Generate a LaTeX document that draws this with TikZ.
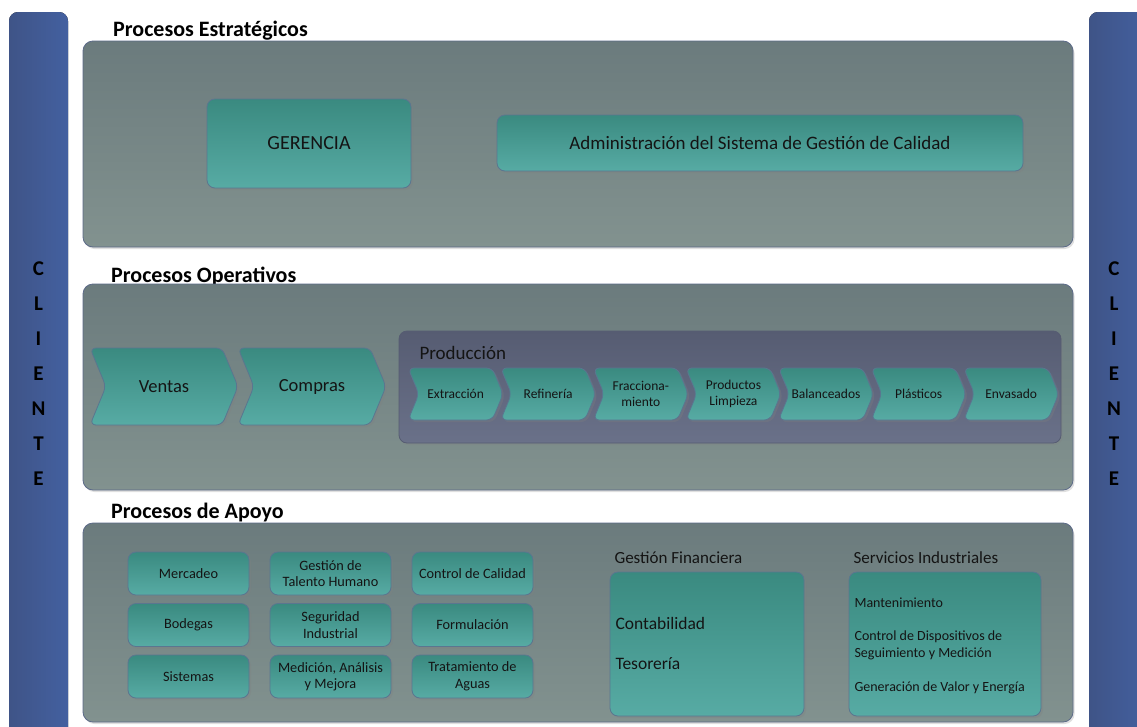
\documentclass[tikz,border=0pt]{standalone}
\usepackage{fontspec}
\setmainfont{Carlito}
\usetikzlibrary{shapes.symbols, shadows}

\definecolor{tealdark}{HTML}{3A8A80}
\definecolor{teallight}{HTML}{57ABA4}
\definecolor{tealedge}{HTML}{5A7690}
\definecolor{panelgray}{HTML}{6B7B7D}
\definecolor{panellight}{HTML}{82928F}
\definecolor{paneledge}{HTML}{5C6A88}
\definecolor{proddark}{HTML}{565C72}
\definecolor{prodlight}{HTML}{6A7189}
\definecolor{clientdark}{HTML}{3F5487}
\definecolor{clientlight}{HTML}{4360A0}
\definecolor{ink}{HTML}{141414}

\begin{document}
\begin{tikzpicture}[x=1pt, y=-1pt,
    panel/.style={draw=paneledge, line width=0.8pt, rounded corners=10pt,
        top color=panelgray, bottom color=panellight,
        drop shadow={shadow xshift=1.5pt, shadow yshift=-2pt, opacity=0.25}},
    prodpanel/.style={draw=proddark, line width=0.8pt, rounded corners=8pt,
        top color=proddark, bottom color=prodlight,
        drop shadow={shadow xshift=1.5pt, shadow yshift=-2pt, opacity=0.25}},
    clientbar/.style={rounded corners=9pt, left color=clientdark, right color=clientlight},
    tealbox/.style={draw=tealedge, line width=0.8pt, rounded corners=8pt,
        top color=tealdark, bottom color=teallight, text=ink, align=center,
        drop shadow={shadow xshift=2pt, shadow yshift=-2pt, opacity=0.3}},
    chevron/.style={tealbox, shape=signal, signal to=east, signal from=west,
        signal pointer angle=135, rounded corners=6pt, inner sep=1pt},
    title/.style={anchor=base west, inner sep=0pt, text=black,
        font=\fontsize{22}{24}\selectfont\bfseries},
    label/.style={anchor=west, text=ink, align=left},
    letter/.style={text=black, font=\fontsize{21}{22}\selectfont\bfseries}]

    % page and margins
    \fill[white] (0,0) rectangle (1137,726);
    \clip (0,0) rectangle (1137,726);

    % cliente bars
    \fill[clientbar] (9,12) rectangle (68,760);
    \fill[clientbar] (1089,12) rectangle (1150,760);
    \foreach \l [count=\i] in {C,L,I,E,N,T,E} {
        \node[letter] (cl\i) at (38.5,234+35*\i) {\l};
        \node[letter] (cr\i) at (1114,234+35*\i) {\l};
    }

    % procesos estrategicos
    \node[title] (tEstr) at (113,36) {Procesos Estratégicos};
    \draw[panel] (83,41) rectangle (1073,247);
    \node[tealbox, minimum width=204pt, minimum height=89pt,
        font=\fontsize{20}{22}\selectfont] (gerencia) at (309,143.5) {GERENCIA};
    \node[tealbox, minimum width=526pt, minimum height=56pt,
        font=\fontsize{19}{22}\selectfont] (sgc) at (760,143) {Administración del Sistema de Gestión de Calidad};

    % procesos operativos
    \node[title] (tOper) at (111,282) {Procesos Operativos};
    \draw[panel] (83,284) rectangle (1073,490);
    \node[chevron, minimum width=148pt, minimum height=77pt,
        font=\fontsize{18.5}{21}\selectfont] (ventas) at (164,386.5) {Ventas};
    \node[chevron, minimum width=148pt, minimum height=77pt,
        font=\fontsize{18.5}{21}\selectfont] (compras) at (312,386.5) {Compras};
    \draw[prodpanel] (399,331) rectangle (1061,443);
    \node[label, font=\fontsize{19}{22}\selectfont] (prod) at (416,353) {Producción};
    \foreach \t [count=\i] in {Extracción, Refinería, {Fracciona-\\miento}, {Productos\\Limpieza},
                               Balanceados, Plásticos, Envasado}
        \node[chevron, minimum width=95pt, minimum height=52pt,
            font=\fontsize{13.5}{16}\selectfont] (p\i) at (363+92.6*\i,394) {\t};

    % procesos de apoyo
    \node[title] (tApoyo) at (111,518) {Procesos de Apoyo};
    \draw[panel] (83,523) rectangle (1073,722);
    \foreach \t [count=\i] in {Mercadeo, {Gestión de\\Talento Humano}, Control de Calidad,
                               Bodegas, {Seguridad\\Industrial}, Formulación,
                               Sistemas, {Medición, Análisis\\y Mejora}, {Tratamiento de\\Aguas}} {
        \pgfmathtruncatemacro{\c}{mod(\i-1,3)}
        \pgfmathtruncatemacro{\r}{div(\i-1,3)}
        \node[tealbox, minimum width=121pt, minimum height=43pt, inner sep=1pt,
            font=\fontsize{14.3}{16.5}\selectfont] (a\i) at (188.5+142*\c,573.5+51.5*\r) {\t};
    }

    % gestion financiera
    \node[label, font=\fontsize{17}{20}\selectfont] (tFin) at (611,558) {Gestión Financiera};
    \node[tealbox, minimum width=194pt, minimum height=144pt] (fin) at (707,644) {};
    \node[label, font=\fontsize{17.5}{20}\selectfont] (conta) at (612,623) {Contabilidad};
    \node[label, font=\fontsize{17.5}{20}\selectfont] (teso) at (612,664) {Tesorería};

    % servicios industriales
    \node[label, font=\fontsize{17}{20}\selectfont] (tServ) at (850,558) {Servicios Industriales};
    \node[tealbox, minimum width=192pt, minimum height=144pt] (serv) at (945,644) {};
    \node[label, font=\fontsize{14}{17}\selectfont] (mant) at (851,603) {Mantenimiento};
    \node[label, font=\fontsize{14}{17}\selectfont] (ctrl) at (851,645.5) {Control de Dispositivos de\\Seguimiento y Medición};
    \node[label, font=\fontsize{14}{17}\selectfont] (gen) at (851,688) {Generación de Valor y Energía};
\end{tikzpicture}
\end{document}
